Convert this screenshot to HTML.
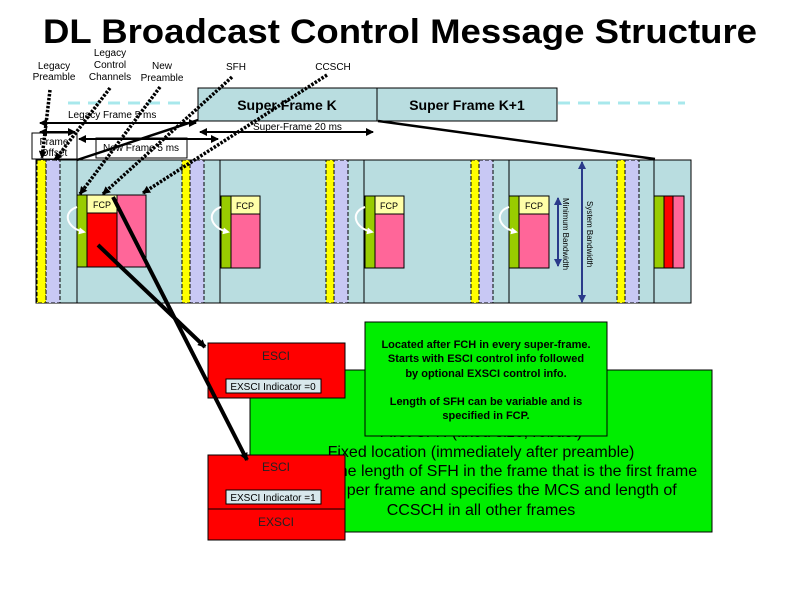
<!DOCTYPE html>
<html><head><meta charset="utf-8"><style>
html,body{margin:0;padding:0;background:#fff;width:800px;height:600px;overflow:hidden}
svg{display:block}
text{font-family:"Liberation Sans",Arial,sans-serif}
</style></head><body>
<svg width="800" height="600" viewBox="0 0 800 600" xmlns="http://www.w3.org/2000/svg">
<defs>
<marker id="ah" markerWidth="8" markerHeight="8" refX="7" refY="4" orient="auto" markerUnits="userSpaceOnUse"><path d="M0,0 L8,4 L0,8 z" fill="#000"/></marker>
<marker id="ahs" markerWidth="8" markerHeight="8" refX="1" refY="4" orient="auto" markerUnits="userSpaceOnUse"><path d="M8,0 L0,4 L8,8 z" fill="#000"/></marker>
<marker id="bh" markerWidth="8" markerHeight="8" refX="7" refY="4" orient="auto" markerUnits="userSpaceOnUse"><path d="M0,0 L8,4 L0,8 z" fill="#2a3a8a"/></marker>
<marker id="bhs" markerWidth="8" markerHeight="8" refX="1" refY="4" orient="auto" markerUnits="userSpaceOnUse"><path d="M8,0 L0,4 L8,8 z" fill="#2a3a8a"/></marker>
<marker id="wh" markerWidth="7" markerHeight="7" refX="5" refY="3.5" orient="auto" markerUnits="userSpaceOnUse"><path d="M0,0 L7,3.5 L0,7 z" fill="#fff"/></marker>
</defs>

<text x="400" y="43" font-size="34" font-weight="bold" text-anchor="middle" textLength="714" lengthAdjust="spacingAndGlyphs">DL Broadcast Control Message Structure</text>

<!-- header labels -->
<g font-size="10" text-anchor="middle">
<text x="54" y="69">Legacy</text><text x="54" y="80">Preamble</text>
<text x="110" y="56">Legacy</text><text x="110" y="68">Control</text><text x="110" y="80">Channels</text>
<text x="162" y="69">New</text><text x="162" y="81">Preamble</text>
<text x="236" y="70">SFH</text>
<text x="333" y="70">CCSCH</text>
</g>

<!-- dashed cyan lines -->
<line x1="68" y1="103" x2="186" y2="103" stroke="#a8e8ec" stroke-width="3" stroke-dasharray="12,8"/>
<line x1="558" y1="103" x2="685" y2="103" stroke="#a8e8ec" stroke-width="3" stroke-dasharray="12,8"/>

<!-- super frames -->
<rect x="198" y="88" width="179" height="33" fill="#b9dde0" stroke="#000"/>
<rect x="377" y="88" width="180" height="33" fill="#b9dde0" stroke="#000"/>
<text x="287" y="110" font-size="14" font-weight="bold" text-anchor="middle">Super Frame K</text>
<text x="467" y="110" font-size="14" font-weight="bold" text-anchor="middle">Super Frame K+1</text>

<!-- main frame area -->
<rect x="36" y="160" width="655" height="143" fill="#b9dde0" stroke="#000"/>
<!-- stripes -->
<g stroke="#000" stroke-dasharray="4,2">
<rect x="37" y="160" width="9" height="143" fill="#ffff00"/>
<rect x="46" y="160" width="14" height="143" fill="#c8c8f4"/>
<rect x="182" y="160" width="8" height="143" fill="#ffff00"/>
<rect x="190" y="160" width="14" height="143" fill="#c8c8f4"/>
<rect x="326" y="160" width="8" height="143" fill="#ffff00"/>
<rect x="334" y="160" width="14" height="143" fill="#c8c8f4"/>
<rect x="471" y="160" width="8" height="143" fill="#ffff00"/>
<rect x="479" y="160" width="14" height="143" fill="#c8c8f4"/>
<rect x="617" y="160" width="8" height="143" fill="#ffff00"/>
<rect x="625" y="160" width="14" height="143" fill="#c8c8f4"/>
</g>
<g stroke="#000">
<line x1="77" y1="160" x2="77" y2="303"/>
<line x1="220" y1="160" x2="220" y2="303"/>
<line x1="364" y1="160" x2="364" y2="303"/>
<line x1="509" y1="160" x2="509" y2="303"/>
<line x1="654" y1="160" x2="654" y2="303"/>
</g>

<!-- frame blocks -->
<g stroke="#000">
<rect x="77" y="195" width="10" height="72" fill="#99cc00"/>
<rect x="87" y="195" width="30" height="18" fill="#ffffa8"/>
<rect x="87" y="213" width="30" height="54" fill="#ff0000"/>
<rect x="117" y="195" width="29" height="72" fill="#ff6699"/>
<rect x="221" y="196" width="10" height="72" fill="#99cc00"/>
<rect x="231" y="196" width="29" height="18" fill="#ffffa8"/>
<rect x="231" y="214" width="29" height="54" fill="#ff6699"/>
<rect x="365" y="196" width="10" height="72" fill="#99cc00"/>
<rect x="375" y="196" width="29" height="18" fill="#ffffa8"/>
<rect x="375" y="214" width="29" height="54" fill="#ff6699"/>
<rect x="509" y="196" width="10" height="72" fill="#99cc00"/>
<rect x="519" y="196" width="30" height="18" fill="#ffffa8"/>
<rect x="519" y="214" width="30" height="54" fill="#ff6699"/>
<rect x="654" y="196" width="10" height="72" fill="#99cc00"/>
<rect x="664" y="196" width="9" height="72" fill="#ff0000"/>
<rect x="673" y="196" width="11" height="72" fill="#ff6699"/>
</g>
<g font-size="9" text-anchor="middle">
<text x="102" y="208">FCP</text><text x="245" y="209">FCP</text><text x="389" y="209">FCP</text><text x="534" y="209">FCP</text>
</g>
<!-- white curved arrows -->
<g fill="none" stroke="#fff" stroke-width="2">
<path d="M77,207 C62,212 66,228 84,232" marker-end="url(#wh)"/>
<path d="M221,207 C206,212 210,228 228,232" marker-end="url(#wh)"/>
<path d="M365,207 C350,212 354,228 372,232" marker-end="url(#wh)"/>
<path d="M509,207 C494,212 498,228 516,232" marker-end="url(#wh)"/>
</g>

<!-- bandwidth arrows -->
<line x1="558" y1="198" x2="558" y2="266" stroke="#2a3a8a" stroke-width="2" marker-start="url(#bhs)" marker-end="url(#bh)"/>
<line x1="582" y1="162" x2="582" y2="302" stroke="#2a3a8a" stroke-width="2" marker-start="url(#bhs)" marker-end="url(#bh)"/>
<text transform="translate(563,198) rotate(90)" font-size="8">Minimum Bandwidth</text>
<text transform="translate(587,201) rotate(90)" font-size="8">System Bandwidth</text>

<!-- frame offset / new frame boxes -->
<rect x="32" y="133" width="45" height="26" fill="#fff" stroke="#000"/>
<text x="54" y="145" font-size="10" text-anchor="middle">Frame</text>
<text x="54" y="156" font-size="10" text-anchor="middle">Offset</text>
<rect x="96" y="138" width="91" height="20" fill="#fff" stroke="#000"/>
<text x="141" y="151" font-size="10" text-anchor="middle">New Frame 5 ms</text>

<text x="68" y="118" font-size="10">Legacy Frame 5 ms</text>
<text x="253" y="130" font-size="10">Super-Frame 20 ms</text>

<!-- double arrows -->
<g stroke="#000" stroke-width="2">
<line x1="40" y1="123" x2="196" y2="123" marker-start="url(#ahs)" marker-end="url(#ah)"/>
<line x1="200" y1="132" x2="373" y2="132" marker-start="url(#ahs)" marker-end="url(#ah)"/>
<line x1="40" y1="132" x2="75" y2="132" marker-start="url(#ahs)" marker-end="url(#ah)"/>
<line x1="79" y1="139" x2="218" y2="139" marker-start="url(#ahs)" marker-end="url(#ah)"/>
</g>

<!-- zoom lines -->
<g stroke="#000" stroke-width="2.5">
<line x1="198" y1="120" x2="77" y2="160"/>
<line x1="378" y1="121" x2="655" y2="159"/>
</g>

<!-- dotted pointer lines -->
<g stroke="#000" stroke-width="3.5" stroke-dasharray="2.5,1.5" fill="none">
<line x1="50" y1="90" x2="42" y2="158" marker-end="url(#ah)"/>
<line x1="110" y1="88" x2="55" y2="160" marker-end="url(#ah)"/>
<line x1="160" y1="87" x2="80" y2="194" marker-end="url(#ah)"/>
<line x1="232" y1="77" x2="103" y2="194" marker-end="url(#ah)"/>
<line x1="327" y1="75" x2="143" y2="193" marker-end="url(#ah)"/>
</g>

<!-- big green box -->
<rect x="250" y="370" width="462" height="162" fill="#00ee00" stroke="#000"/>
<g font-size="16" text-anchor="middle">
<text x="481" y="437">First SFH (fixed size, robust)</text>
<text x="481" y="457">Fixed location (immediately after preamble)</text>
<text x="481" y="476">Specifies the length of SFH in the frame that is the first frame</text>
<text x="481" y="495">of the super frame and specifies the MCS and length of</text>
<text x="481" y="515">CCSCH in all other frames</text>
</g>

<!-- small green box -->
<rect x="365" y="322" width="242" height="114" fill="#00ee00" stroke="#000"/>
<g font-size="11" font-weight="bold" text-anchor="middle">
<text x="486" y="348">Located after FCH in every super-frame.</text>
<text x="486" y="362">Starts with ESCI control info followed</text>
<text x="486" y="377">by optional EXSCI control info.</text>
<text x="486" y="405">Length of SFH can be variable and is</text>
<text x="486" y="419">specified in FCP.</text>
</g>

<!-- red boxes -->
<rect x="208" y="343" width="137" height="55" fill="#ff0000" stroke="#000"/>
<text x="276" y="360" font-size="12" text-anchor="middle" fill="#222">ESCI</text>
<rect x="226" y="379" width="95" height="14" fill="#d8e8ec" stroke="#000"/>
<text x="273" y="390" font-size="10" text-anchor="middle">EXSCI Indicator =0</text>

<rect x="208" y="455" width="137" height="85" fill="#ff0000" stroke="#000"/>
<line x1="208" y1="509" x2="345" y2="509" stroke="#000"/>
<text x="276" y="471" font-size="12" text-anchor="middle" fill="#222">ESCI</text>
<rect x="226" y="490" width="95" height="14" fill="#d8e8ec" stroke="#000"/>
<text x="273" y="501" font-size="10" text-anchor="middle">EXSCI Indicator =1</text>
<text x="276" y="526" font-size="12" text-anchor="middle" fill="#222">EXSCI</text>

<!-- solid pointer lines -->
<g stroke="#000" stroke-width="4">
<line x1="98" y1="245" x2="205" y2="347" marker-end="url(#ah)"/>
<line x1="113" y1="197" x2="247" y2="460" marker-end="url(#ah)"/>
</g>
</svg>
</body></html>
